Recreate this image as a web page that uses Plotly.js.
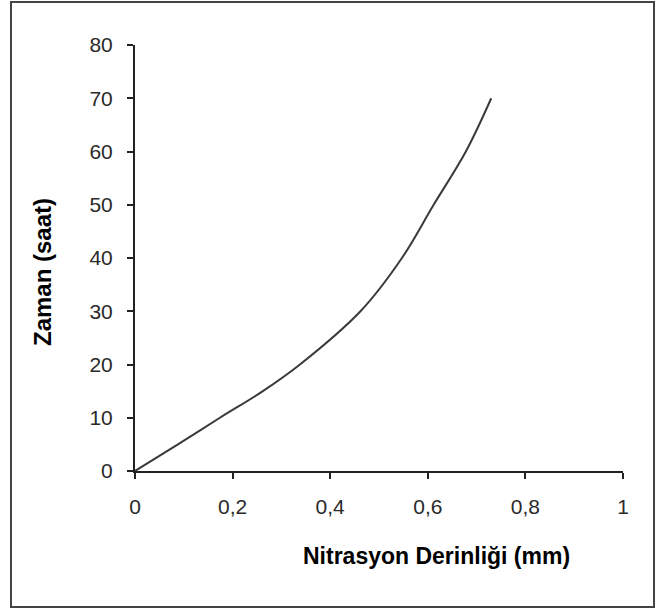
<!DOCTYPE html>
<html>
<head>
<meta charset="utf-8">
<script src="https://cdn.plot.ly/plotly-3.0.1.min.js"></script>
<style>
  html, body { margin: 0; padding: 0; background: #fff; }
  #chart { width: 656px; height: 615px; }
</style>
</head>
<body>
<div id="chart"></div>
<script>
// Data
const depthMm = [0, 0.088, 0.174, 0.262, 0.338, 0.462, 0.547, 0.612, 0.678, 0.73];
const timeHours = [0, 5, 10, 15, 20, 30, 40, 50, 60, 70];
const xTickVals = [0, 0.2, 0.4, 0.6, 0.8, 1];
const xTickText = ['0', '0,2', '0,4', '0,6', '0,8', '1'];
const yTickVals = [0, 10, 20, 30, 40, 50, 60, 70, 80];
const xTitle = 'Nitrasyon Derinliği (mm)';
const yTitle = 'Zaman (saat)';

const L = 135, R = 33, T = 45, B = 144;
const W = 656 - L - R, H = 615 - T - B;
const px = v => (v - L) / W;          // pixel x -> paper x
const py = v => (615 - B - v) / H;    // pixel y -> paper y

const trace = {
  x: depthMm,
  y: timeHours,
  type: 'scatter',
  mode: 'lines',
  line: { color: '#3a3a3a', width: 2, shape: 'spline', smoothing: 1 },
  hoverinfo: 'skip'
};

const tickFont = { family: 'Liberation Sans, Arial, sans-serif', size: 21, color: '#2a2a2a' };
const titleFont = { family: 'Liberation Sans, Arial, sans-serif', size: 23, color: '#000' };

const layout = {
  width: 656, height: 615,
  margin: { l: L, r: R, t: T, b: B, pad: 0 },
  paper_bgcolor: '#fff', plot_bgcolor: '#fff',
  showlegend: false,
  xaxis: {
    range: [0, 1], tickvals: xTickVals, ticktext: xTickText,
    showgrid: false, zeroline: false,
    showline: true, linecolor: '#222', linewidth: 2,
    ticks: 'outside', ticklen: 6, tickwidth: 2, tickcolor: '#222',
    ticklabelstandoff: 10,
    tickfont: tickFont, fixedrange: true
  },
  yaxis: {
    range: [0, 80], tickvals: yTickVals,
    showgrid: false, zeroline: false,
    showline: true, linecolor: '#222', linewidth: 2,
    ticks: 'outside', ticklen: 6, tickwidth: 2, tickcolor: '#222',
    ticklabelstandoff: 10,
    tickfont: tickFont, fixedrange: true
  },
  annotations: [
    { text: '<b>' + xTitle + '</b>', xref: 'paper', yref: 'paper',
      x: px(436), y: py(556), xanchor: 'center', yanchor: 'middle',
      showarrow: false, font: titleFont },
    { text: '<b>' + yTitle + '</b>', xref: 'paper', yref: 'paper',
      x: px(42), y: py(272), xanchor: 'center', yanchor: 'middle',
      textangle: -90, showarrow: false, font: { family: titleFont.family, size: 24, color: '#000' } }
  ],
  shapes: [
    { type: 'rect', xref: 'paper', yref: 'paper',
      x0: px(11), x1: px(654), y0: py(607), y1: py(2),
      line: { color: '#444', width: 2 }, fillcolor: 'rgba(0,0,0,0)', layer: 'below' }
  ]
};

Plotly.newPlot('chart', [trace], layout, { displayModeBar: false, staticPlot: true });
</script>
</body>
</html>
